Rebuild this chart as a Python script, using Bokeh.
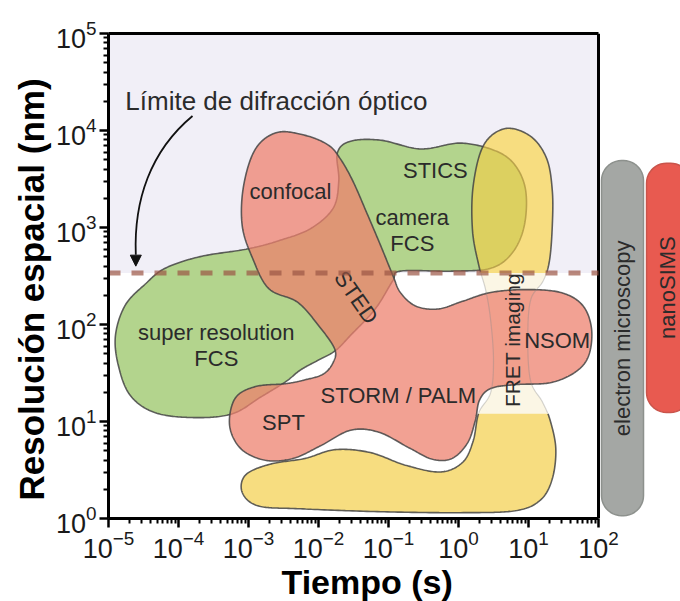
import numpy as np
from bokeh.plotting import figure
from bokeh.models import FixedTicker, Label, Arrow, NormalHead, LogAxis, Title
from bokeh.core.properties import value
from bokeh.embed import file_html
from bokeh.resources import INLINE

# ---------------------------------------------------------------- data
# axis extents: time (s) and spatial resolution (nm)
T_MIN, T_MAX = 1e-5, 1e2
R_MIN, R_MAX = 1e0, 1e5
DIFFRACTION_LIMIT_NM = 340.0

# Domain outlines as control points: log10(time / s), log10(resolution / nm)
# fluctuation-based methods: super resolution FCS, camera FCS, STICS
fcs_logt = [-4.90, -4.76, -4.47, -4.19, -3.69, -3.01, -2.54, -2.11, -1.79, -1.71,
            -1.73, -1.54, -1.11, -0.54, 0.03, 0.53, 0.81, 0.96, 0.94, 0.77,
            0.46, -0.11, -0.83, -0.94, -1.19, -1.54, -1.76, -2.01, -2.26, -2.47,
            -2.83, -3.23, -3.76, -4.33, -4.69, -4.86]
fcs_logr = [1.89, 2.20, 2.42, 2.58, 2.70, 2.78, 2.87, 2.99, 3.20, 3.48,
            3.77, 3.89, 3.90, 3.81, 3.87, 3.79, 3.64, 3.38, 3.02, 2.74,
            2.58, 2.55, 2.55, 2.45, 2.16, 1.89, 1.73, 1.63, 1.53, 1.41,
            1.25, 1.08, 1.04, 1.09, 1.27, 1.58]

# imaging methods: confocal, STED, STORM / PALM, SPT, NSOM
img_logt = [-2.59, -2.19, -1.86, -1.69, -1.51, -1.31, -1.11, -0.94, -0.83, -0.61,
            -0.29, 0.06, 0.46, 0.96, 1.46, 1.77, 1.90, 1.86, 1.67, 1.31,
            0.81, 0.46, 0.30, 0.24, 0.13, -0.09, -0.37, -0.71, -1.14, -1.54,
            -1.97, -2.36, -2.76, -3.11, -3.27, -3.19, -2.90, -2.47, -2.19, -1.93,
            -1.79, -1.77, -2.00, -2.30, -2.71, -2.94, -3.09, -3.07, -2.90]
img_logr = [3.98, 3.95, 3.85, 3.71, 3.48, 3.15, 2.81, 2.51, 2.33, 2.19,
            2.16, 2.24, 2.33, 2.36, 2.33, 2.20, 1.96, 1.68, 1.51, 1.40,
            1.38, 1.34, 1.22, 1.01, 0.78, 0.62, 0.61, 0.73, 0.89, 0.91,
            0.75, 0.62, 0.60, 0.72, 0.96, 1.24, 1.36, 1.39, 1.43, 1.49,
            1.61, 1.75, 1.99, 2.23, 2.37, 2.68, 3.02, 3.43, 3.81]

# FRET imaging
fret_logt = [0.67, 1.03, 1.26, 1.34, 1.34, 1.30, 1.21, 1.03, 0.99, 1.03,
             1.20, 1.31, 1.39, 1.34, 1.17, 0.81, 0.03, -1.11, -2.26, -2.86,
             -3.09, -3.04, -2.69, -2.19, -1.76, -1.26, -0.76, -0.26, 0.06, 0.21,
             0.29, 0.46, 0.50, 0.46, 0.39, 0.29, 0.20, 0.21, 0.36]
fret_logr = [4.02, 3.94, 3.71, 3.38, 3.02, 2.66, 2.45, 2.25, 1.84, 1.42,
             1.20, 1.01, 0.72, 0.41, 0.19, 0.08, 0.06, 0.07, 0.10, 0.13,
             0.27, 0.45, 0.56, 0.62, 0.71, 0.68, 0.55, 0.48, 0.58, 0.80,
             1.09, 1.30, 1.63, 2.04, 2.35, 2.61, 2.97, 3.43, 3.85]
# the FRET band is faded between the diffraction limit and this level
FRET_FADE_LOW_NM = 10 ** 1.08

# region labels: text, log10 time, log10 resolution
labels_text = ["confocal", "STICS", "camera", "FCS", "super resolution", "FCS",
               "STORM / PALM", "SPT", "NSOM"]
labels_logt = [-2.40, -0.33, -0.66, -0.66, -3.46, -3.46, -0.86, -2.50, 1.41]
labels_logr = [3.37, 3.59, 3.10, 2.84, 1.92, 1.65, 1.27, 0.99, 1.84]

# methods with no time axis, drawn beside the plot: resolution span (nm)
side_methods = ["electron microscopy", "nanoSIMS"]
side_res_lo = [1.07, 12.4]
side_res_hi = [4900.0, 4600.0]
side_label_res = [72.0, 240.0]

# ---------------------------------------------------------------- style
LAVENDER = "#F1EFF7"
GREEN = "#B3D48D"
RED = "#ED806D"
YELLOW = "#F4CE45"
CREAM = "#FBF6E5"
OUTLINE = "#444444"
TEXT = "#2b2b2b"
FONT = "Liberation Sans"

W, H = 680, 601
LEFT, RIGHT, TOP, BOTTOM = 108, 0, 33, 83
PX_PER_DEC_T = 70.0                     # horizontal pixels per decade of time
X_END = T_MAX * 10 ** ((W - LEFT - RIGHT) / PX_PER_DEC_T - np.log10(T_MAX / T_MIN))
PX_PER_DEC_R = (H - TOP - BOTTOM) / np.log10(R_MAX / R_MIN)

# side bars: horizontal placement in decades past the time axis end
side_dec_left = [0.043, 0.686]
side_dec_right = [0.643, 1.314]
side_fill = ["#A4A7A4", "#E85A50"]
side_line = ["#8D918D", "#C9544B"]


def closed_spline(lx, ly, n=24):
    """Closed Catmull-Rom curve through the control points."""
    P = np.column_stack([lx, ly]).astype(float)
    m = len(P)
    t = np.linspace(0, 1, n, endpoint=False)[:, None]
    segs = []
    for i in range(m):
        p0, p1, p2, p3 = P[i - 1], P[i], P[(i + 1) % m], P[(i + 2) % m]
        segs.append(0.5 * (2 * p1 + (-p0 + p2) * t
                           + (2 * p0 - 5 * p1 + 4 * p2 - p3) * t ** 2
                           + (-p0 + 3 * p1 - 3 * p2 + p3) * t ** 3))
    c = np.vstack(segs)
    return c[:, 0], c[:, 1]


def clip_half(xs, ys, level, keep_above):
    """Clip a polygon against a horizontal line (Sutherland-Hodgman)."""
    def inside(q):
        return q[1] >= level if keep_above else q[1] <= level

    def cross(a, b):
        f = (level - a[1]) / (b[1] - a[1])
        return (a[0] + f * (b[0] - a[0]), level)

    pts = list(zip(xs, ys))
    out = []
    for i in range(len(pts)):
        cur, prev = pts[i], pts[i - 1]
        if inside(cur):
            if not inside(prev):
                out.append(cross(prev, cur))
            out.append(cur)
        elif inside(prev):
            out.append(cross(prev, cur))
    return np.array([q[0] for q in out]), np.array([q[1] for q in out])


def masked(xs, ys, keep):
    """Closed outline with NaN gaps wherever keep is False."""
    xs = np.append(xs, xs[0]); ys = np.append(ys, ys[0]); keep = np.append(keep, keep[0])
    return np.where(keep, xs, np.nan), np.where(keep, ys, np.nan)


def rounded_box(lx0, lx1, ly0, ly1, radius_px, n=12):
    """Rounded rectangle in log10 coordinates with a corner radius in pixels."""
    rx, ry = radius_px / PX_PER_DEC_T, radius_px / PX_PER_DEC_R
    xs, ys = [], []
    corners = [(lx1 - rx, ly1 - ry, 0.0), (lx0 + rx, ly1 - ry, 0.5 * np.pi),
               (lx0 + rx, ly0 + ry, np.pi), (lx1 - rx, ly0 + ry, 1.5 * np.pi)]
    for cx, cy, a0 in corners:
        a = np.linspace(a0, a0 + 0.5 * np.pi, n)
        xs.extend(cx + rx * np.cos(a)); ys.extend(cy + ry * np.sin(a))
    return np.array(xs), np.array(ys)


p = figure(width=W, height=H, x_axis_type="log", y_axis_type="log",
           x_range=(T_MIN, X_END), y_range=(R_MIN, R_MAX),
           output_backend="svg", toolbar_location=None,
           min_border_left=LEFT, min_border_right=RIGHT,
           min_border_top=TOP, min_border_bottom=BOTTOM)
p.grid.visible = False
p.background_fill_color = "white"
p.border_fill_color = "white"
p.outline_line_color = None

# decade ticks with 2..9 minor ticks
e_t = list(range(int(np.log10(T_MIN)), int(np.log10(T_MAX)) + 1))
e_r = list(range(int(np.log10(R_MIN)), int(np.log10(R_MAX)) + 1))
p.xaxis.ticker = FixedTicker(ticks=[10.0 ** e for e in e_t],
                             minor_ticks=[k * 10.0 ** e for e in e_t[:-1] for k in range(2, 10)])
p.yaxis.ticker = FixedTicker(ticks=[10.0 ** e for e in e_r],
                             minor_ticks=[k * 10.0 ** e for e in e_r[:-1] for k in range(2, 10)])
p.xaxis.bounds = (T_MIN, T_MAX)
for ax in (p.xaxis, p.yaxis):
    ax.axis_line_width = 3
    ax.axis_line_color = "black"
    ax.major_tick_line_width = 2.5
    ax.minor_tick_line_width = 2
    ax.major_tick_out = 9
    ax.major_tick_in = 0
    ax.minor_tick_out = 5
    ax.minor_tick_in = 0
    ax.major_label_text_font = FONT
    ax.major_label_text_font_size = "27px"
    ax.major_label_text_color = "#1a1a1a"
p.xaxis.major_label_standoff = 2
p.yaxis.major_label_standoff = 3

# axis titles
p.add_layout(Title(text="Tiempo (s)", align="left", offset=173, standoff=0,
                   text_font=FONT, text_font_size="34px", text_font_style="bold",
                   text_color="black"), "below")
p.add_layout(Title(text="Resolución espacial (nm)", align="left", offset=18, standoff=4,
                   text_font=FONT, text_font_size="35px", text_font_style="bold",
                   text_color="black"), "left")

# top edge of the frame
top = LogAxis(ticker=FixedTicker(ticks=[], minor_ticks=[]), bounds=(T_MIN, T_MAX),
              axis_line_width=3, axis_line_color="black",
              major_tick_out=0, major_tick_in=0, minor_tick_out=0, minor_tick_in=0)
p.add_layout(top, "above")

# region above the optical diffraction limit
p.quad(left=[T_MIN], right=[T_MAX], bottom=[DIFFRACTION_LIMIT_NM], top=[R_MAX],
       fill_color=LAVENDER, line_color=None)

# FRET band: faded base
fx, fy = closed_spline(fret_logt, fret_logr)
p.patch(10 ** fx, 10 ** fy, fill_color=CREAM, line_color=None)

# fluctuation methods
gx, gy = closed_spline(fcs_logt, fcs_logr)
p.patch(10 ** gx, 10 ** gy, fill_color=GREEN, line_color=OUTLINE, line_width=1.6, line_alpha=0.85)

# FRET band: solid parts above the diffraction limit and at small scales
lim = np.log10(DIFFRACTION_LIMIT_NM)
low = np.log10(FRET_FADE_LOW_NM)
tx, ty = clip_half(fx, fy, lim, True)
bx, by = clip_half(fx, fy, low, False)
p.patch(10 ** tx, 10 ** ty, fill_color=YELLOW, fill_alpha=0.63, line_color=None)
p.patch(10 ** bx, 10 ** by, fill_color=YELLOW, fill_alpha=0.63, line_color=None)
solid = (fy >= lim) | (fy <= low)
ox, oy = masked(fx, fy, solid)
p.line(10 ** ox, 10 ** oy, line_color=OUTLINE, line_width=1.6, line_alpha=0.85)

# imaging methods
rx, ry = closed_spline(img_logt, img_logr)
p.patch(10 ** rx, 10 ** ry, fill_color=RED, fill_alpha=0.74,
        line_color=OUTLINE, line_width=1.6, line_alpha=0.85)

# faint outline of the faded FRET part
ox, oy = masked(fx, fy, ~solid)
p.line(10 ** ox, 10 ** oy, line_color="#888888", line_width=1.2, line_alpha=0.35)

# region labels
p.text(x=[10 ** v for v in labels_logt], y=[10 ** v for v in labels_logr], text=labels_text,
       text_align="center", text_baseline="middle", text_font=value(FONT),
       text_font_size="22px", text_color=TEXT)
p.text(x=[10 ** -1.46], y=[10 ** 2.28], text=["STED"], angle=-0.96,
       text_align="center", text_baseline="middle", text_font=value(FONT),
       text_font_size="22px", text_color=TEXT)
p.text(x=[10 ** 0.77], y=[10 ** 1.84], text=["FRET imaging"], angle=np.pi / 2,
       text_align="center", text_baseline="middle", text_font=value(FONT),
       text_font_size="21px", text_color=TEXT)

# right edge of the frame
p.segment(x0=[T_MAX], y0=[R_MIN], x1=[T_MAX], y1=[R_MAX], line_color="black", line_width=3)

# diffraction limit
p.segment(x0=[T_MIN], y0=[DIFFRACTION_LIMIT_NM], x1=[T_MAX], y1=[DIFFRACTION_LIMIT_NM],
          line_color="#9B5545", line_alpha=0.7, line_width=5, line_dash="12 11")

p.add_layout(Label(x=10 ** -4.76, y=10 ** 4.30, text="Límite de difracción óptico",
                   text_align="left", text_baseline="middle", text_font=FONT,
                   text_font_size="26px", text_color=TEXT))

# curved pointer from the caption down to the limit line
arrow_logt = [-3.80, -4.40, -4.64, -4.61]
arrow_logr = [4.15, 3.79, 3.28, 2.72]
p.bezier(x0=[10 ** arrow_logt[0]], y0=[10 ** arrow_logr[0]],
         cx0=[10 ** arrow_logt[1]], cy0=[10 ** arrow_logr[1]],
         cx1=[10 ** arrow_logt[2]], cy1=[10 ** arrow_logr[2]],
         x1=[10 ** arrow_logt[3]], y1=[10 ** arrow_logr[3]],
         line_color="#111111", line_width=1.8)
p.add_layout(Arrow(end=NormalHead(size=11, fill_color="#111111", line_color="#111111"),
                   x_start=10 ** arrow_logt[3], y_start=10 ** arrow_logr[3],
                   x_end=10 ** arrow_logt[3], y_end=DIFFRACTION_LIMIT_NM * 10 ** 0.07,
                   line_alpha=0))

# methods without a time axis, beside the frame
lt_max = np.log10(T_MAX)
for name, lo, hi, dl, dr, yl, fc, lc in zip(side_methods, side_res_lo, side_res_hi,
                                            side_dec_left, side_dec_right, side_label_res,
                                            side_fill, side_line):
    bxs, bys = rounded_box(lt_max + dl, lt_max + dr, np.log10(lo), np.log10(hi), 20)
    p.patch(10 ** bxs, 10 ** bys, fill_color=fc, line_color=lc, line_width=1.5)
    cx = lt_max + dl + 21 / PX_PER_DEC_T
    p.text(x=[10 ** cx], y=[yl], text=[name], angle=np.pi / 2,
           text_align="center", text_baseline="middle", text_font=value(FONT),
           text_font_size="22px", text_color=TEXT)

open("out.html", "w").write(file_html(p, INLINE))
